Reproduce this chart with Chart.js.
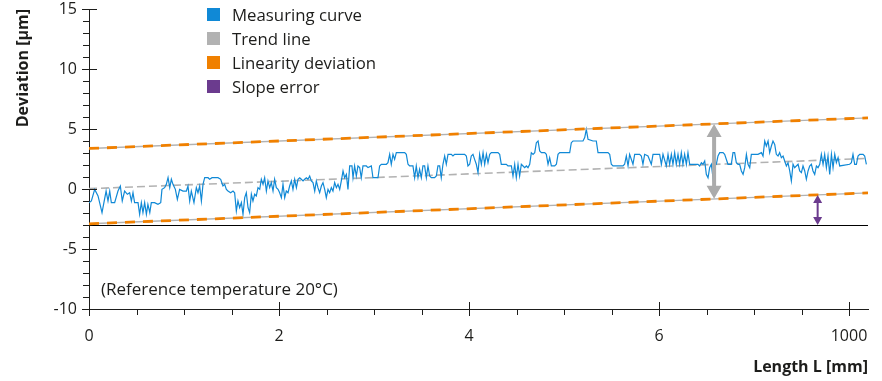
<!DOCTYPE html>
<html>
<head>
<meta charset="utf-8">
<script src="https://cdn.jsdelivr.net/npm/chart.js@4.4.1/dist/chart.umd.min.js"></script>
<style>
  body { margin: 0; background: #fff; }
  #wrap { position: relative; width: 882px; height: 381px; font-family: "Open Sans", sans-serif; color: #1d1d1b; }
  #legend { position: absolute; left: 207px; top: 2px; }
  .item { display: flex; align-items: center; height: 24px; font-size: 16.8px; }
  .box { width: 13px; height: 13px; margin-right: 12px; }
  #note { position: absolute; left: 101px; top: 278px; font-size: 17px; line-height: 22px; }
</style>
</head>
<body>
<div id="wrap">
  <canvas id="chart" width="882" height="381"></canvas>
  <div id="legend"></div>
  <div id="note">(Reference temperature 20°C)</div>
</div>
<script>
// measured deviation, [position, value in µm]
const curvePoints = [
  [0, -1.14], [0.025, -1.0], [0.06, -0.03], [0.095, -0.58], [0.137, -1.97], [0.18, -0.17], [0.2, -1.0], [0.218, -0.17],
  [0.235, -1.14], [0.27, -1.14], [0.305, -0.17], [0.33, 0.25], [0.35, -1.0], [0.375, -0.17], [0.404, -0.44], [0.428, -0.31],
  [0.446, -1.0], [0.463, -0.31], [0.48, -1.14], [0.516, -1.14], [0.533, -2.11], [0.551, -1.14], [0.568, -1.97], [0.586, -1.14],
  [0.604, -2.11], [0.62, -1.28], [0.64, -1.97], [0.656, -1.14], [0.69, -1.14], [0.726, -1.28], [0.755, -1.14], [0.768, -0.03],
  [0.796, 0.11], [0.814, 0.39], [0.832, 0.94], [0.85, 0.11], [0.867, 0.81], [0.884, 0.39], [0.909, -0.03], [0.93, -0.86],
  [0.954, -0.03], [0.99, -0.17], [1.025, -0.17], [1.042, 0.25], [1.06, -1.0], [1.077, -0.17], [1.105, -1.14], [1.13, 0.11],
  [1.147, -0.31], [1.165, 0.25], [1.183, -1.0], [1.2, 0.39], [1.218, 0.94], [1.253, 0.94], [1.27, 0.81], [1.295, 0.94],
  [1.34, 0.94], [1.358, 0.94], [1.386, 0.81], [1.41, 0.25], [1.428, 0.39], [1.446, -0.03], [1.463, -0.17], [1.491, -0.31],
  [1.516, -0.17], [1.533, -0.31], [1.551, -1.83], [1.568, -1.0], [1.586, -1.56], [1.604, -1.14], [1.621, -2.11], [1.639, -0.72],
  [1.656, -0.31], [1.674, -1.56], [1.691, -1.97], [1.709, -0.44], [1.726, -1.0], [1.744, -0.44], [1.761, -0.58], [1.779, 0.11],
  [1.797, -0.03], [1.814, 0.81], [1.832, 0.39], [1.849, 0.94], [1.867, -0.17], [1.884, 0.67], [1.902, 0.11], [1.919, 0.53],
  [1.937, -0.17], [1.954, 0.81], [1.972, 0.11], [1.99, -0.03], [2.007, -0.31], [2.025, -0.72], [2.042, 0.39], [2.06, -0.72],
  [2.077, -0.17], [2.095, -0.31], [2.112, 0.25], [2.13, 0.67], [2.147, -0.03], [2.165, 0.81], [2.183, 0.11], [2.2, 0.81],
  [2.218, 0.94], [2.235, 0.81], [2.253, 0.67], [2.27, 0.81], [2.288, 0.94], [2.305, 0.81], [2.323, 1.08], [2.34, 0.67],
  [2.358, 0.53], [2.376, -0.17], [2.393, 0.67], [2.41, 0.11], [2.428, -0.31], [2.446, 0.25], [2.463, 0.53], [2.481, -0.03],
  [2.498, -0.72], [2.516, -0.03], [2.533, -0.31], [2.551, 0.11], [2.568, -0.17], [2.586, 0.53], [2.604, 0.11], [2.621, 0.39],
  [2.639, -0.03], [2.656, 0.67], [2.674, 1.5], [2.691, 0.94], [2.709, 1.22], [2.726, -0.03], [2.744, 1.92], [2.768, 1.92],
  [2.779, 0.94], [2.796, 1.92], [2.814, 1.08], [2.831, 1.92], [2.849, 1.78], [2.866, 0.94], [2.884, 1.92], [2.919, 1.92],
  [2.937, 1.78], [2.972, 1.92], [2.989, 0.94], [3.042, 0.94], [3.059, 1.92], [3.077, 2.06], [3.13, 2.06], [3.147, 2.19],
  [3.165, 2.89], [3.182, 2.06], [3.2, 2.89], [3.217, 2.47], [3.235, 3.03], [3.323, 3.03], [3.34, 2.89], [3.358, 2.06],
  [3.375, 1.92], [3.41, 1.92], [3.428, 0.94], [3.445, 1.92], [3.463, 0.94], [3.48, 1.64], [3.498, 0.94], [3.515, 1.92],
  [3.533, 1.92], [3.551, 0.94], [3.568, 1.92], [3.586, 1.08], [3.603, 0.94], [3.638, 0.94], [3.656, 1.08], [3.673, 1.92],
  [3.691, 1.92], [3.708, 0.94], [3.726, 2.06], [3.744, 2.75], [3.761, 2.06], [3.779, 2.89], [3.814, 2.89], [3.831, 2.75],
  [3.849, 2.89], [3.954, 2.89], [3.972, 2.75], [3.989, 1.92], [4.007, 2.06], [4.024, 2.75], [4.042, 2.89], [4.059, 2.47],
  [4.077, 2.06], [4.095, 1.36], [4.112, 2.89], [4.13, 2.06], [4.148, 3.03], [4.165, 2.06], [4.183, 2.89], [4.2, 2.19],
  [4.218, 2.89], [4.235, 3.03], [4.305, 3.03], [4.323, 2.89], [4.34, 2.06], [4.393, 2.06], [4.41, 1.92], [4.446, 1.92],
  [4.463, 1.08], [4.481, 2.06], [4.498, 0.94], [4.516, 2.06], [4.533, 1.08], [4.551, 2.06], [4.569, 1.92], [4.586, 1.78],
  [4.604, 1.92], [4.621, 1.78], [4.639, 2.06], [4.656, 3.03], [4.674, 2.89], [4.692, 3.03], [4.709, 3.86], [4.727, 4.0],
  [4.744, 3.17], [4.762, 3.03], [4.797, 3.03], [4.814, 2.89], [4.832, 2.06], [4.849, 2.61], [4.867, 1.92], [4.902, 1.92],
  [4.92, 2.06], [4.937, 2.89], [4.955, 3.03], [5.06, 3.03], [5.077, 3.86], [5.095, 4.0], [5.2, 4.0], [5.218, 4.28],
  [5.235, 4.97], [5.253, 4.14], [5.305, 4.0], [5.34, 4.0], [5.358, 3.03], [5.428, 3.03], [5.463, 3.03], [5.481, 2.89],
  [5.498, 2.06], [5.516, 1.92], [5.621, 1.92], [5.638, 2.06], [5.656, 2.75], [5.674, 1.92], [5.691, 2.89], [5.726, 2.06],
  [5.744, 2.89], [5.796, 2.89], [5.814, 2.75], [5.831, 2.06], [5.849, 2.89], [5.884, 2.75], [5.919, 2.06], [5.937, 2.89],
  [6.007, 2.89], [6.025, 2.06], [6.042, 2.89], [6.077, 1.92], [6.095, 2.89], [6.112, 2.06], [6.13, 2.89], [6.147, 2.06],
  [6.165, 3.03], [6.182, 2.06], [6.2, 2.89], [6.217, 2.06], [6.235, 3.03], [6.252, 2.06], [6.27, 2.89], [6.288, 2.06],
  [6.305, 3.03], [6.323, 2.06], [6.41, 2.06], [6.428, 1.92], [6.446, 2.19], [6.463, 2.06], [6.481, 2.33], [6.498, 1.22],
  [6.516, 0.94], [6.533, 1.78], [6.551, 2.06], [6.568, 0.94], [6.586, 2.06], [6.603, 2.06], [6.621, 2.75], [6.639, 3.03],
  [6.674, 3.03], [6.691, 2.89], [6.726, 2.06], [6.761, 2.06], [6.779, 3.03], [6.796, 3.03], [6.814, 2.19], [6.832, 2.06],
  [6.849, 2.06], [6.867, 1.5], [6.885, 1.22], [6.902, 1.78], [6.92, 2.89], [6.937, 2.06], [6.955, 1.78], [6.972, 2.89],
  [7.042, 2.89], [7.078, 3.03], [7.095, 2.75], [7.113, 4.0], [7.13, 3.58], [7.148, 4.0], [7.165, 3.03], [7.183, 3.58],
  [7.2, 4.0], [7.218, 3.72], [7.235, 2.89], [7.253, 2.75], [7.27, 3.03], [7.288, 2.61], [7.306, 2.75], [7.323, 2.33],
  [7.341, 1.92], [7.358, 2.19], [7.376, 1.5], [7.393, 0.67], [7.411, 2.06], [7.428, 1.78], [7.464, 2.06], [7.481, 1.5],
  [7.499, 1.36], [7.516, 1.92], [7.534, 1.5], [7.551, 0.81], [7.569, 1.5], [7.586, 1.92], [7.604, 2.06], [7.621, 1.5],
  [7.639, 1.22], [7.657, 1.92], [7.674, 1.78], [7.692, 2.06], [7.709, 2.89], [7.727, 2.06], [7.744, 2.89], [7.762, 1.78],
  [7.779, 2.75], [7.797, 1.22], [7.815, 2.89], [7.832, 1.78], [7.85, 2.89], [7.867, 2.19], [7.885, 2.61], [7.902, 1.92],
  [8.007, 2.06], [8.025, 2.19], [8.042, 2.89], [8.06, 2.06], [8.078, 2.06], [8.095, 2.75], [8.113, 2.89], [8.148, 2.89],
  [8.165, 2.75], [8.183, 2.06]
];

// straight lines: start and end of the measured length
const lineX = [0, 8.2];
const trendY = [0.03, 2.55];
const upperLimitY = [3.38, 5.93];
const lowerLimitY = [-2.9, -0.32];
const slopeRefY = [-3.04, -3.04];

// arrows: x, lower end, upper end
const spanArrow = [6.58, -0.81, 5.42];
const slopeArrow = [7.67, -3, -0.5];

const xTickValues = [0, 2, 4, 6, 8];
const xTickLabels = ['0', '2', '4', '6', '1000'];
const xMinorTicks = [0.5, 1, 1.5, 2.5, 3, 3.5, 4.5, 5, 5.5, 6.5, 7, 7.5];
const yTickValues = [-10, -5, 0, 5, 10, 15];
const yTickLabels = ['-10', '-5', '0', '5', '10', '15'];
const yMinorTicks = [-9, -8, -7, -6, -4, -3, -2, -1, 1, 2, 3, 4, 6, 7, 8, 9, 11, 12, 13, 14];

const textColor = '#1d1d1b';
const blue = '#1089d6';
const grey = '#b2b2b2';
const orange = '#f08000';
const purple = '#6b3b8e';
const arrowGrey = '#ababab';

function line(ys) {
  return lineX.map((x, i) => ({ x: x, y: ys[i] }));
}

const axisMarks = {
  id: 'axisMarks',
  afterDraw(chart) {
    const { ctx, chartArea } = chart;
    const x = chart.scales.x, y = chart.scales.y;
    const bottom = chartArea.bottom, left = chartArea.left;
    ctx.save();
    ctx.strokeStyle = textColor;
    ctx.lineWidth = 1;
    ctx.beginPath();
    xTickValues.forEach(v => {
      const px = Math.round(x.getPixelForValue(v)) + 0.5;
      ctx.moveTo(px, bottom - 7); ctx.lineTo(px, bottom + 7);
    });
    xMinorTicks.forEach(v => {
      const px = Math.round(x.getPixelForValue(v)) + 0.5;
      ctx.moveTo(px, bottom); ctx.lineTo(px, bottom + 6);
    });
    yTickValues.forEach(v => {
      const py = Math.round(y.getPixelForValue(v)) + 0.5;
      ctx.moveTo(left - 7, py); ctx.lineTo(left + 8, py);
    });
    yMinorTicks.forEach(v => {
      const py = Math.round(y.getPixelForValue(v)) + 0.5;
      ctx.moveTo(left - 6, py); ctx.lineTo(left, py);
    });
    ctx.stroke();
    ctx.restore();
  }
};

const arrows = {
  id: 'arrows',
  afterDatasetsDraw(chart) {
    const ctx = chart.ctx;
    chart.data.datasets.forEach((ds, i) => {
      if (!ds.arrow) return;
      const pts = chart.getDatasetMeta(i).data;
      const x = pts[0].x;
      const top = Math.min(pts[0].y, pts[1].y);
      const bottom = Math.max(pts[0].y, pts[1].y);
      const { head, half, shaft } = ds.arrow;
      ctx.save();
      ctx.fillStyle = ds.borderColor;
      ctx.fillRect(x - shaft / 2, top + head - 1, shaft, bottom - top - 2 * head + 2);
      ctx.beginPath();
      ctx.moveTo(x, top); ctx.lineTo(x + half, top + head); ctx.lineTo(x - half, top + head); ctx.closePath();
      ctx.moveTo(x, bottom); ctx.lineTo(x + half, bottom - head); ctx.lineTo(x - half, bottom - head); ctx.closePath();
      ctx.fill();
      ctx.restore();
    });
  }
};

const htmlLegend = {
  id: 'htmlLegend',
  afterUpdate(chart) {
    const box = document.getElementById('legend');
    box.innerHTML = '';
    chart.data.datasets.filter(ds => ds.inLegend).forEach(ds => {
      const item = document.createElement('div');
      item.className = 'item';
      item.innerHTML = `<span class="box" style="background:${ds.borderColor}"></span><span>${ds.label}</span>`;
      box.appendChild(item);
    });
  }
};

const ctx = document.getElementById('chart').getContext('2d');
new Chart(ctx, {
  type: 'line',
  data: {
    datasets: [
      {
        label: 'Measuring curve',
        inLegend: true,
        data: curvePoints.map(p => ({ x: p[0], y: p[1] })),
        borderColor: blue,
        borderWidth: 1.2,
        order: 3
      },
      {
        label: 'Trend line',
        inLegend: true,
        data: line(trendY),
        borderColor: grey,
        borderWidth: 1.6,
        borderDash: [8, 4],
        order: 4
      },
      {
        label: 'Linearity deviation',
        inLegend: true,
        data: line(upperLimitY),
        borderColor: orange,
        borderWidth: 2.8,
        borderDash: [10, 8],
        order: 1
      },
      {
        label: 'Linearity deviation (lower)',
        data: line(lowerLimitY),
        borderColor: orange,
        borderWidth: 2.8,
        borderDash: [10, 8],
        order: 1
      },
      {
        label: 'upper base',
        data: line(upperLimitY),
        borderColor: grey,
        borderWidth: 1.4,
        order: 2
      },
      {
        label: 'lower base',
        data: line(lowerLimitY),
        borderColor: grey,
        borderWidth: 1.4,
        order: 2
      },
      {
        label: 'slope reference',
        data: line(slopeRefY),
        borderColor: '#000',
        borderWidth: 1.2,
        order: 5
      },
      {
        label: 'deviation span',
        data: [{ x: spanArrow[0], y: spanArrow[1] }, { x: spanArrow[0], y: spanArrow[2] }],
        borderColor: arrowGrey,
        showLine: false,
        arrow: { head: 13, half: 7.5, shaft: 4 },
        order: 0
      },
      {
        label: 'Slope error',
        inLegend: true,
        data: [{ x: slopeArrow[0], y: slopeArrow[1] }, { x: slopeArrow[0], y: slopeArrow[2] }],
        borderColor: purple,
        showLine: false,
        arrow: { head: 8, half: 4.5, shaft: 2 },
        order: 0
      }
    ]
  },
  options: {
    responsive: false,
    animation: false,
    elements: { point: { radius: 0 }, line: { tension: 0 } },
    layout: { padding: { top: 9, right: 14, left: 0, bottom: 0 } },
    plugins: { legend: { display: false }, tooltip: { enabled: false } },
    scales: {
      x: {
        type: 'linear',
        min: 0,
        max: 8.2,
        afterFit(scale) {
          scale.height = 72;
          scale.paddingLeft = 0;
          scale.paddingRight = 0;
        },
        afterBuildTicks(scale) { scale.ticks = xTickValues.map(v => ({ value: v })); },
        grid: { display: false, drawTicks: false },
        border: { display: true, color: textColor, width: 1 },
        ticks: {
          autoSkip: false,
          maxRotation: 0,
          padding: 18,
          color: textColor,
          font: { family: 'Open Sans', size: 16 },
          callback: (v, i) => xTickLabels[i]
        },
        title: {
          display: true,
          text: 'Length L [mm]',
          align: 'end',
          color: textColor,
          font: { family: 'Open Sans', size: 16, weight: 'bold' },
          padding: { top: 0, bottom: 4 }
        }
      },
      y: {
        min: -10,
        max: 15,
        afterFit(scale) {
          scale.width = 89;
          scale.paddingTop = 0;
          scale.paddingBottom = 0;
        },
        afterBuildTicks(scale) { scale.ticks = yTickValues.map(v => ({ value: v })); },
        grid: { display: false, drawTicks: false },
        border: { display: true, color: textColor, width: 1 },
        ticks: {
          padding: 12,
          color: textColor,
          font: { family: 'Open Sans', size: 16 },
          callback: (v, i) => yTickLabels[i]
        },
        title: {
          display: true,
          text: 'Deviation [µm]',
          align: 'end',
          color: textColor,
          font: { family: 'Open Sans', size: 16, weight: 'bold' },
          padding: { top: 14, bottom: 0 }
        }
      }
    }
  },
  plugins: [axisMarks, arrows, htmlLegend]
});
</script>
</body>
</html>
